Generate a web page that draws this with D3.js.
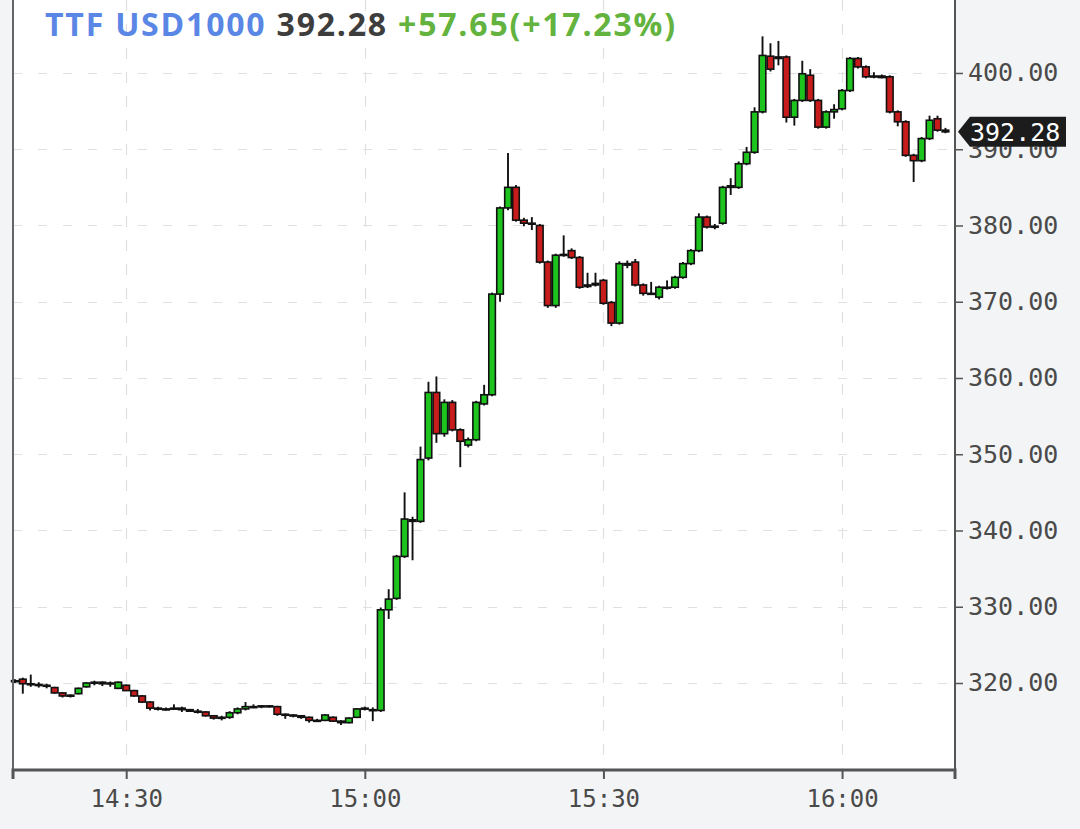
<!DOCTYPE html>
<html>
<head>
<meta charset="utf-8">
<script src="https://cdn.jsdelivr.net/npm/d3@7"></script>
<style>
  html, body { margin: 0; padding: 0; background: #f3f4f6; }
  svg { display: block; }
</style>
</head>
<body>
<div id="chart"></div>
<script>
// 1-minute candles, 14:16 .. 16:13
var times = [
  "14:16","14:17","14:18","14:19","14:20","14:21","14:22","14:23","14:24","14:25",
  "14:26","14:27","14:28","14:29","14:30","14:31","14:32","14:33","14:34","14:35",
  "14:36","14:37","14:38","14:39","14:40","14:41","14:42","14:43","14:44","14:45",
  "14:46","14:47","14:48","14:49","14:50","14:51","14:52","14:53","14:54","14:55",
  "14:56","14:57","14:58","14:59","15:00","15:01","15:02","15:03","15:04","15:05",
  "15:06","15:07","15:08","15:09","15:10","15:11","15:12","15:13","15:14","15:15",
  "15:16","15:17","15:18","15:19","15:20","15:21","15:22","15:23","15:24","15:25",
  "15:26","15:27","15:28","15:29","15:30","15:31","15:32","15:33","15:34","15:35",
  "15:36","15:37","15:38","15:39","15:40","15:41","15:42","15:43","15:44","15:45",
  "15:46","15:47","15:48","15:49","15:50","15:51","15:52","15:53","15:54","15:55",
  "15:56","15:57","15:58","15:59","16:00","16:01","16:02","16:03","16:04","16:05",
  "16:06","16:07","16:08","16:09","16:10","16:11","16:12","16:13"
];
var opens = [
  320.3,320.5,319.9,319.8,319.7,319.4,318.7,318.3,318.6,319.5,
  320.0,320.1,319.9,319.3,319.7,319.0,318.3,317.5,316.7,316.6,
  316.6,316.7,316.5,316.3,316.2,315.7,315.4,315.5,316.1,316.6,
  316.9,316.9,317.0,316.9,315.9,315.8,315.7,315.5,315.1,315.1,
  315.5,315.0,314.8,315.5,316.6,316.5,316.4,329.6,331.1,336.6,
  341.4,341.2,349.5,358.1,352.7,356.8,353.2,351.2,351.9,356.6,
  357.8,371.0,382.3,385.0,380.7,380.3,380.0,375.2,369.5,376.1,
  376.7,375.8,372.0,372.2,372.8,369.9,367.2,375.0,375.2,372.2,
  371.1,370.6,371.9,371.9,373.2,375.0,376.7,381.1,379.8,380.3,
  385.0,385.0,388.1,389.6,394.9,402.2,402.1,402.1,394.2,396.4,
  399.7,396.4,392.9,394.9,395.3,397.7,401.9,400.8,399.5,399.6,
  399.5,394.9,393.6,389.2,388.5,391.4,394.0,392.5
];
var highs = [
  320.5,320.7,321.1,320.1,319.9,319.5,318.8,318.5,319.4,320.1,
  320.3,320.2,320.2,320.2,319.8,319.1,318.4,317.6,316.9,316.8,
  317.2,316.9,316.6,316.6,316.3,315.8,315.7,316.3,316.8,317.5,
  317.2,317.1,317.1,317.0,316.0,315.9,315.8,315.6,315.3,315.9,
  315.6,315.1,315.5,316.7,316.9,316.8,329.9,332.3,336.8,345.0,
  341.8,351.0,359.5,360.2,357.2,357.1,353.4,352.2,357.0,359.1,
  371.2,382.5,389.5,385.3,381.0,381.1,380.2,375.4,376.3,378.7,
  377.0,376.0,373.8,373.8,373.0,370.1,375.3,375.4,375.6,372.4,
  372.6,372.1,372.8,373.4,375.2,376.9,381.6,381.3,380.2,385.2,
  386.2,388.4,390.3,395.5,404.8,403.9,404.2,402.3,396.6,401.6,
  400.5,396.6,395.1,395.9,397.9,402.1,402.1,401.0,400.1,399.8,
  399.7,395.1,393.8,389.4,391.6,394.4,394.4,392.8
];
var lows = [
  320.0,318.6,319.5,319.4,319.3,318.6,318.1,318.1,318.5,319.4,
  319.7,319.6,319.5,319.2,319.0,318.2,317.4,316.4,316.4,316.4,
  316.5,316.2,316.2,316.0,315.6,315.2,315.1,315.3,315.9,316.4,
  316.7,316.7,316.8,315.7,315.3,315.5,315.3,314.8,314.9,315.0,
  314.9,314.5,314.7,315.4,316.4,315.0,316.2,328.4,330.9,336.4,
  336.1,341.0,349.2,351.5,352.3,353.0,348.3,350.9,351.7,356.4,
  357.6,370.0,382.0,380.5,379.9,379.4,375.0,369.2,369.2,375.9,
  375.6,371.7,371.8,372.0,369.6,366.8,367.0,374.4,372.0,370.8,
  370.9,370.3,371.6,371.7,373.0,374.8,376.5,379.6,379.5,380.1,
  384.0,384.8,387.9,389.4,394.7,400.2,401.0,393.5,393.1,396.2,
  396.2,392.7,392.7,394.0,395.1,397.5,400.6,399.3,399.3,399.3,
  394.7,393.0,389.0,385.7,388.3,391.2,392.3,392.1
];
var closes = [
  320.2,319.9,319.8,319.7,319.6,318.7,318.3,318.4,319.3,320.0,
  320.1,319.9,320.0,320.1,319.0,318.3,317.5,316.7,316.6,316.6,
  316.7,316.5,316.3,316.2,315.7,315.4,315.5,316.1,316.6,316.9,
  316.9,317.0,316.9,315.9,315.8,315.7,315.5,315.1,315.1,315.8,
  315.0,314.8,315.4,316.6,316.7,316.4,329.6,331.0,336.6,341.5,
  341.2,349.3,358.1,352.7,356.8,353.2,351.7,351.9,356.8,357.8,
  371.0,382.3,385.0,380.7,380.3,380.2,375.2,369.5,376.1,376.2,
  375.8,371.9,372.2,372.4,369.8,367.2,375.0,374.8,372.2,371.1,
  371.0,371.9,371.8,373.2,375.0,376.7,381.1,379.8,379.9,385.0,
  385.2,388.1,389.6,394.9,402.3,400.5,401.9,394.2,396.4,399.9,
  396.4,392.9,394.9,395.2,397.7,401.9,400.8,399.5,399.6,399.4,
  394.9,393.6,389.2,388.5,391.4,393.8,392.5,392.28
];

var yTicks = [320, 330, 340, 350, 360, 370, 380, 390, 400];
var xTicks = ["14:30", "15:00", "15:30", "16:00"];
var title = ["TTF USD1000", "392.28", "+57.65(+17.23%)"];
var lastPrice = 392.28;

var width = 1080;
var height = 829;
var plot = { left: 13, right: 955, top: 0, bottom: 770 };

var parseT = function (s) {
  var p = s.split(":");
  return new Date(2023, 0, 9, +p[0], +p[1], 0);
};
var candles = times.map(function (t, i) {
  return { t: parseT(t), o: opens[i], h: highs[i], l: lows[i], c: closes[i] };
});

var x = d3
  .scaleTime()
  .domain([new Date(2023, 0, 9, 14, 15, 46), new Date(2023, 0, 9, 16, 14, 12)])
  .range([plot.left, plot.right]);

var y = d3
  .scaleLinear()
  .domain([308.59, 409.57])
  .range([plot.bottom, plot.top]);

var svg = d3
  .select("#chart")
  .append("svg")
  .attr("viewBox", [0, 0, width, height])
  .attr("width", width)
  .attr("height", height);

svg.append("rect").attr("width", width).attr("height", height).attr("fill", "#f3f4f6");
svg
  .append("rect")
  .attr("x", plot.left)
  .attr("y", plot.top)
  .attr("width", plot.right - plot.left)
  .attr("height", plot.bottom - plot.top)
  .attr("fill", "#ffffff");

// grid
var grid = svg.append("g").attr("stroke", "#e0e0e0").attr("stroke-width", 1.2);
grid
  .selectAll("line.h")
  .data(yTicks)
  .join("line")
  .attr("class", "h")
  .attr("x1", plot.left)
  .attr("x2", plot.right)
  .attr("y1", (d) => Math.round(y(d)) + 0.5)
  .attr("y2", (d) => Math.round(y(d)) + 0.5)
  .attr("stroke-dasharray", "9,16");
grid
  .selectAll("line.v")
  .data(xTicks.map(parseT))
  .join("line")
  .attr("class", "v")
  .attr("x1", (d) => Math.round(x(d)) + 0.5)
  .attr("x2", (d) => Math.round(x(d)) + 0.5)
  .attr("y1", plot.top)
  .attr("y2", plot.bottom)
  .attr("stroke-dasharray", "11,13");

// candles
var bw = 6.6;
var cg = svg.append("g").attr("class", "candles");
var c = cg.selectAll("g").data(candles).join("g");
c.append("line")
  .attr("x1", (d) => x(d.t))
  .attr("x2", (d) => x(d.t))
  .attr("y1", (d) => y(d.h))
  .attr("y2", (d) => y(d.l))
  .attr("stroke", "#111")
  .attr("stroke-width", 1.9);
c.append("rect")
  .attr("x", (d) => x(d.t) - bw / 2)
  .attr("y", (d) => y(Math.max(d.o, d.c)))
  .attr("width", bw)
  .attr("height", (d) => Math.max(1, Math.abs(y(d.o) - y(d.c))))
  .attr("fill", (d) => (d.c >= d.o ? "#1ec41e" : "#c81c1c"))
  .attr("stroke", "#111")
  .attr("stroke-width", 1.6);

// plot frame
svg
  .append("line")
  .attr("x1", plot.left)
  .attr("x2", plot.left)
  .attr("y1", 0)
  .attr("y2", plot.bottom)
  .attr("stroke", "#666")
  .attr("stroke-width", 2);

// right axis
var yAxis = svg
  .append("g")
  .attr("transform", `translate(${plot.right},0)`)
  .call(d3.axisRight(y).tickValues(yTicks).tickFormat(d3.format(".2f")).tickSize(8).tickPadding(5));
yAxis.select(".domain").attr("stroke", "#555").attr("stroke-width", 2).attr("d", `M0,0V${plot.bottom}`);
yAxis.selectAll(".tick line").attr("stroke", "#555").attr("stroke-width", 1.5);
yAxis
  .selectAll(".tick text")
  .attr("fill", "#4a4a4a")
  .attr("font-family", "DejaVu Sans Mono")
  .attr("font-size", 25);

// bottom axis
var xAxis = svg
  .append("g")
  .attr("transform", `translate(0,${plot.bottom})`)
  .call(d3.axisBottom(x).tickValues(xTicks.map(parseT)).tickFormat(d3.timeFormat("%H:%M")).tickSize(9).tickPadding(11));
xAxis.select(".domain").attr("stroke", "#555").attr("stroke-width", 3).attr("d", `M${plot.left},9V0H${plot.right}V9`);
xAxis.selectAll(".tick line").attr("stroke", "#555").attr("stroke-width", 2);
xAxis
  .selectAll(".tick text")
  .attr("fill", "#4a4a4a")
  .attr("font-family", "DejaVu Sans Mono")
  .attr("font-size", 24);

// last price tag (covers the top of the 390.00 label, as in the original)
var ty = y(lastPrice);
var tag = svg.append("g");
tag
  .append("path")
  .attr("d", `M${plot.right + 3},${ty} L${plot.right + 15},${ty - 15} H1066 V${ty + 15} H${plot.right + 15} Z`)
  .attr("fill", "#1c1c1c");
tag
  .append("text")
  .attr("x", 970)
  .attr("y", ty)
  .attr("dy", "0.35em")
  .attr("fill", "#fff")
  .attr("font-family", "DejaVu Sans Mono")
  .attr("font-size", 25)
  .text(lastPrice.toFixed(2));

// header
var head = svg
  .append("text")
  .attr("x", 45)
  .attr("y", 36)
  .attr("font-family", "Open Sans")
  .attr("font-weight", 700)
  .attr("font-size", 32)
  .attr("letter-spacing", 1.8);
var headColors = ["#5a86e6", "#3d3d3d", "#63b33e"];
head
  .selectAll("tspan")
  .data(title)
  .join("tspan")
  .attr("fill", (d, i) => headColors[i])
  .text((d, i) => (i < title.length - 1 ? d + " " : d));
</script>
</body>
</html>
